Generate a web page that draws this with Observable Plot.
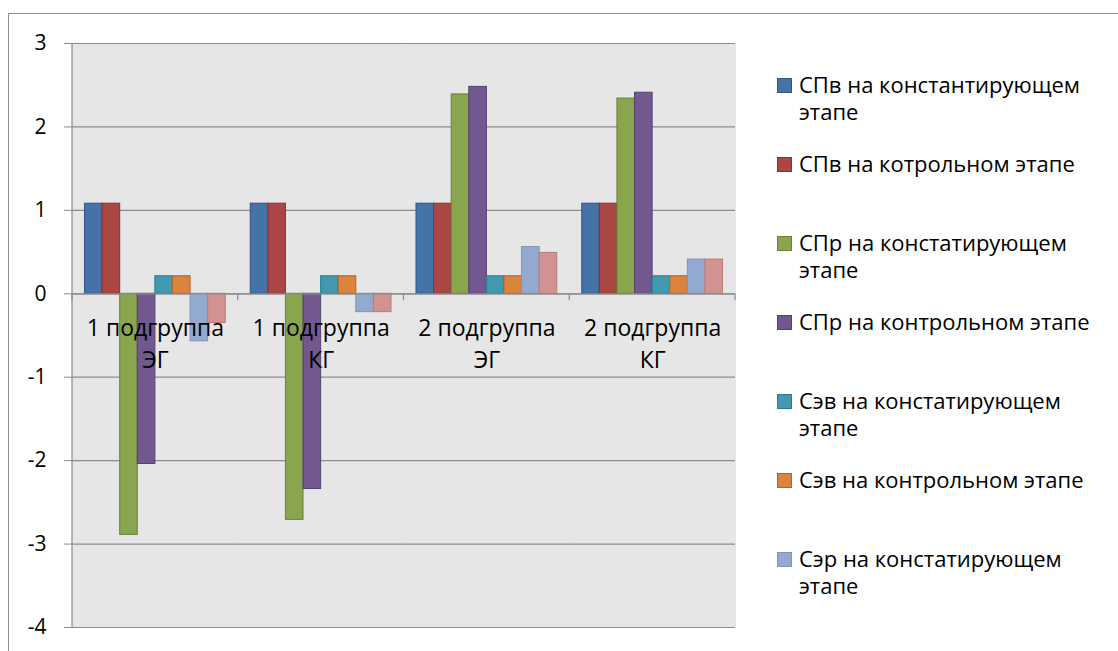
<!DOCTYPE html>
<html><head><meta charset="utf-8">
<script src="https://cdn.jsdelivr.net/npm/d3@7"></script>
<script src="https://cdn.jsdelivr.net/npm/@observablehq/plot@0.6"></script>
<style>
body{margin:0;background:#fff;font-family:"Open Sans",sans-serif;}
#wrap{position:relative;width:1118px;height:651px;overflow:hidden;}
#border{position:absolute;left:8px;top:13px;width:1200px;height:700px;border:1px solid #8e8e8e;box-sizing:border-box;}
#chart{position:absolute;left:0;top:0;}
#legend{position:absolute;left:777px;top:0;}
.item{position:absolute;left:0;display:flex;align-items:flex-start;font-size:22px;line-height:27px;color:#000;white-space:nowrap;}
.sw{width:13px;height:13px;border:1px solid;margin-top:7px;margin-right:7px;flex:none;}
</style></head>
<body>
<div id="wrap"><div id="border"></div><div id="chart"></div><div id="legend"></div></div>
<script>
const categories = ["1 подгруппа\nЭГ", "1 подгруппа\nКГ", "2 подгруппа\nЭГ", "2 подгруппа\nКГ"];
const series = [
  "СПв на константирующем\nэтапе",
  "СПв на котрольном этапе",
  "СПр на констатирующем\nэтапе",
  "СПр на контрольном этапе",
  "Сэв на констатирующем\nэтапе",
  "Сэв на контрольном этапе",
  "Сэр на констатирующем\nэтапе",
  "Сэр на контрольном этапе"
];
const spvConst   = [1.08, 1.08, 1.08, 1.08];
const spvControl = [1.08, 1.08, 1.08, 1.08];
const sprConst   = [-2.89, -2.71, 2.39, 2.34];
const sprControl = [-2.04, -2.34, 2.48, 2.41];
const sevConst   = [0.21, 0.21, 0.21, 0.21];
const sevControl = [0.21, 0.21, 0.21, 0.21];
const serConst   = [-0.57, -0.22, 0.56, 0.41];
const serControl = [-0.35, -0.22, 0.49, 0.41];
const yTicks = [-4, -3, -2, -1, 0, 1, 2, 3];
const fills   = ["#4572a7", "#aa4643", "#89a54e", "#71588f", "#4198af", "#db843d", "#93a9cf", "#d19392"];
const strokes = ["#2f5585", "#853432", "#6a813a", "#54416e", "#2d7a8e", "#b0642a", "#7f94b8", "#b87c7b"];
const legendCount = 7;

const allValues = [spvConst, spvControl, sprConst, sprControl, sevConst, sevControl, serConst, serControl];
const data = [];
series.forEach((s, i) => categories.forEach((c, j) => data.push({category: c, series: s, value: allValues[i][j], idx: i})));

const plot = Plot.plot({
  width: 740, height: 651,
  marginLeft: 72, marginRight: 5, marginTop: 43, marginBottom: 24,
  style: {fontFamily: "'Open Sans', sans-serif", background: "transparent"},
  fx: {domain: categories, padding: 0, round: false, axis: null, label: null},
  x: {domain: series, paddingInner: 0, paddingOuter: 0.71, round: false, axis: null, label: null},
  y: {domain: [-4, 3], axis: null, label: null},
  marks: [
    Plot.frame({fill: "#e6e6e6", stroke: "#e6e6e6"}),
    Plot.gridY(yTicks, {stroke: "#8c8c8c", strokeOpacity: 1, strokeWidth: 1.2}),
    Plot.barY(data, {fx: "category", x: "series", y: "value", fill: d => fills[d.idx], stroke: d => strokes[d.idx], strokeWidth: 1, inset: 0}),
    Plot.ruleY([0], {stroke: "#8c8c8c", strokeWidth: 1.2}),
    Plot.text(categories, {fx: d => d, y: () => 0, text: d => d, lineAnchor: "top", dy: 19, fontSize: 23, lineHeight: 1.4, fill: "#000"}),
    Plot.axisY(yTicks, {label: null, tickSize: 8, tickPadding: 18, fontSize: 21, stroke: "#8c8c8c", fill: "#000", tickFormat: d => String(d).replace("−", "-")})
  ]
});
document.getElementById("chart").appendChild(plot);

// left axis line and category boundary ticks, positioned from Plot's scales
const fx = plot.scale("fx"), y = plot.scale("y");
const svg = d3.select(plot);
const x0 = fx.apply(categories[0]);
svg.append("line").attr("x1", x0).attr("x2", x0).attr("y1", y.apply(3)).attr("y2", y.apply(-4)).attr("stroke", "#8c8c8c").attr("stroke-width", 1.2);
const bounds = categories.map(c => fx.apply(c)).concat([fx.apply(categories[categories.length - 1]) + fx.bandwidth]);
bounds.forEach(b => svg.append("line").attr("x1", b).attr("x2", b).attr("y1", y.apply(0)).attr("y2", y.apply(0) + 7).attr("stroke", "#8c8c8c").attr("stroke-width", 1.2));

// legend (only the first seven entries are visible in the reference)
const legend = document.getElementById("legend");
series.slice(0, legendCount).forEach((s, i) => {
  const item = document.createElement("div");
  item.className = "item";
  item.style.top = (71 + i * 79) + "px";
  const sw = document.createElement("div");
  sw.className = "sw";
  sw.style.background = fills[i];
  sw.style.borderColor = strokes[i];
  const t = document.createElement("div");
  t.style.whiteSpace = "pre";
  t.textContent = s;
  item.appendChild(sw); item.appendChild(t);
  legend.appendChild(item);
});
</script>
</body></html>
